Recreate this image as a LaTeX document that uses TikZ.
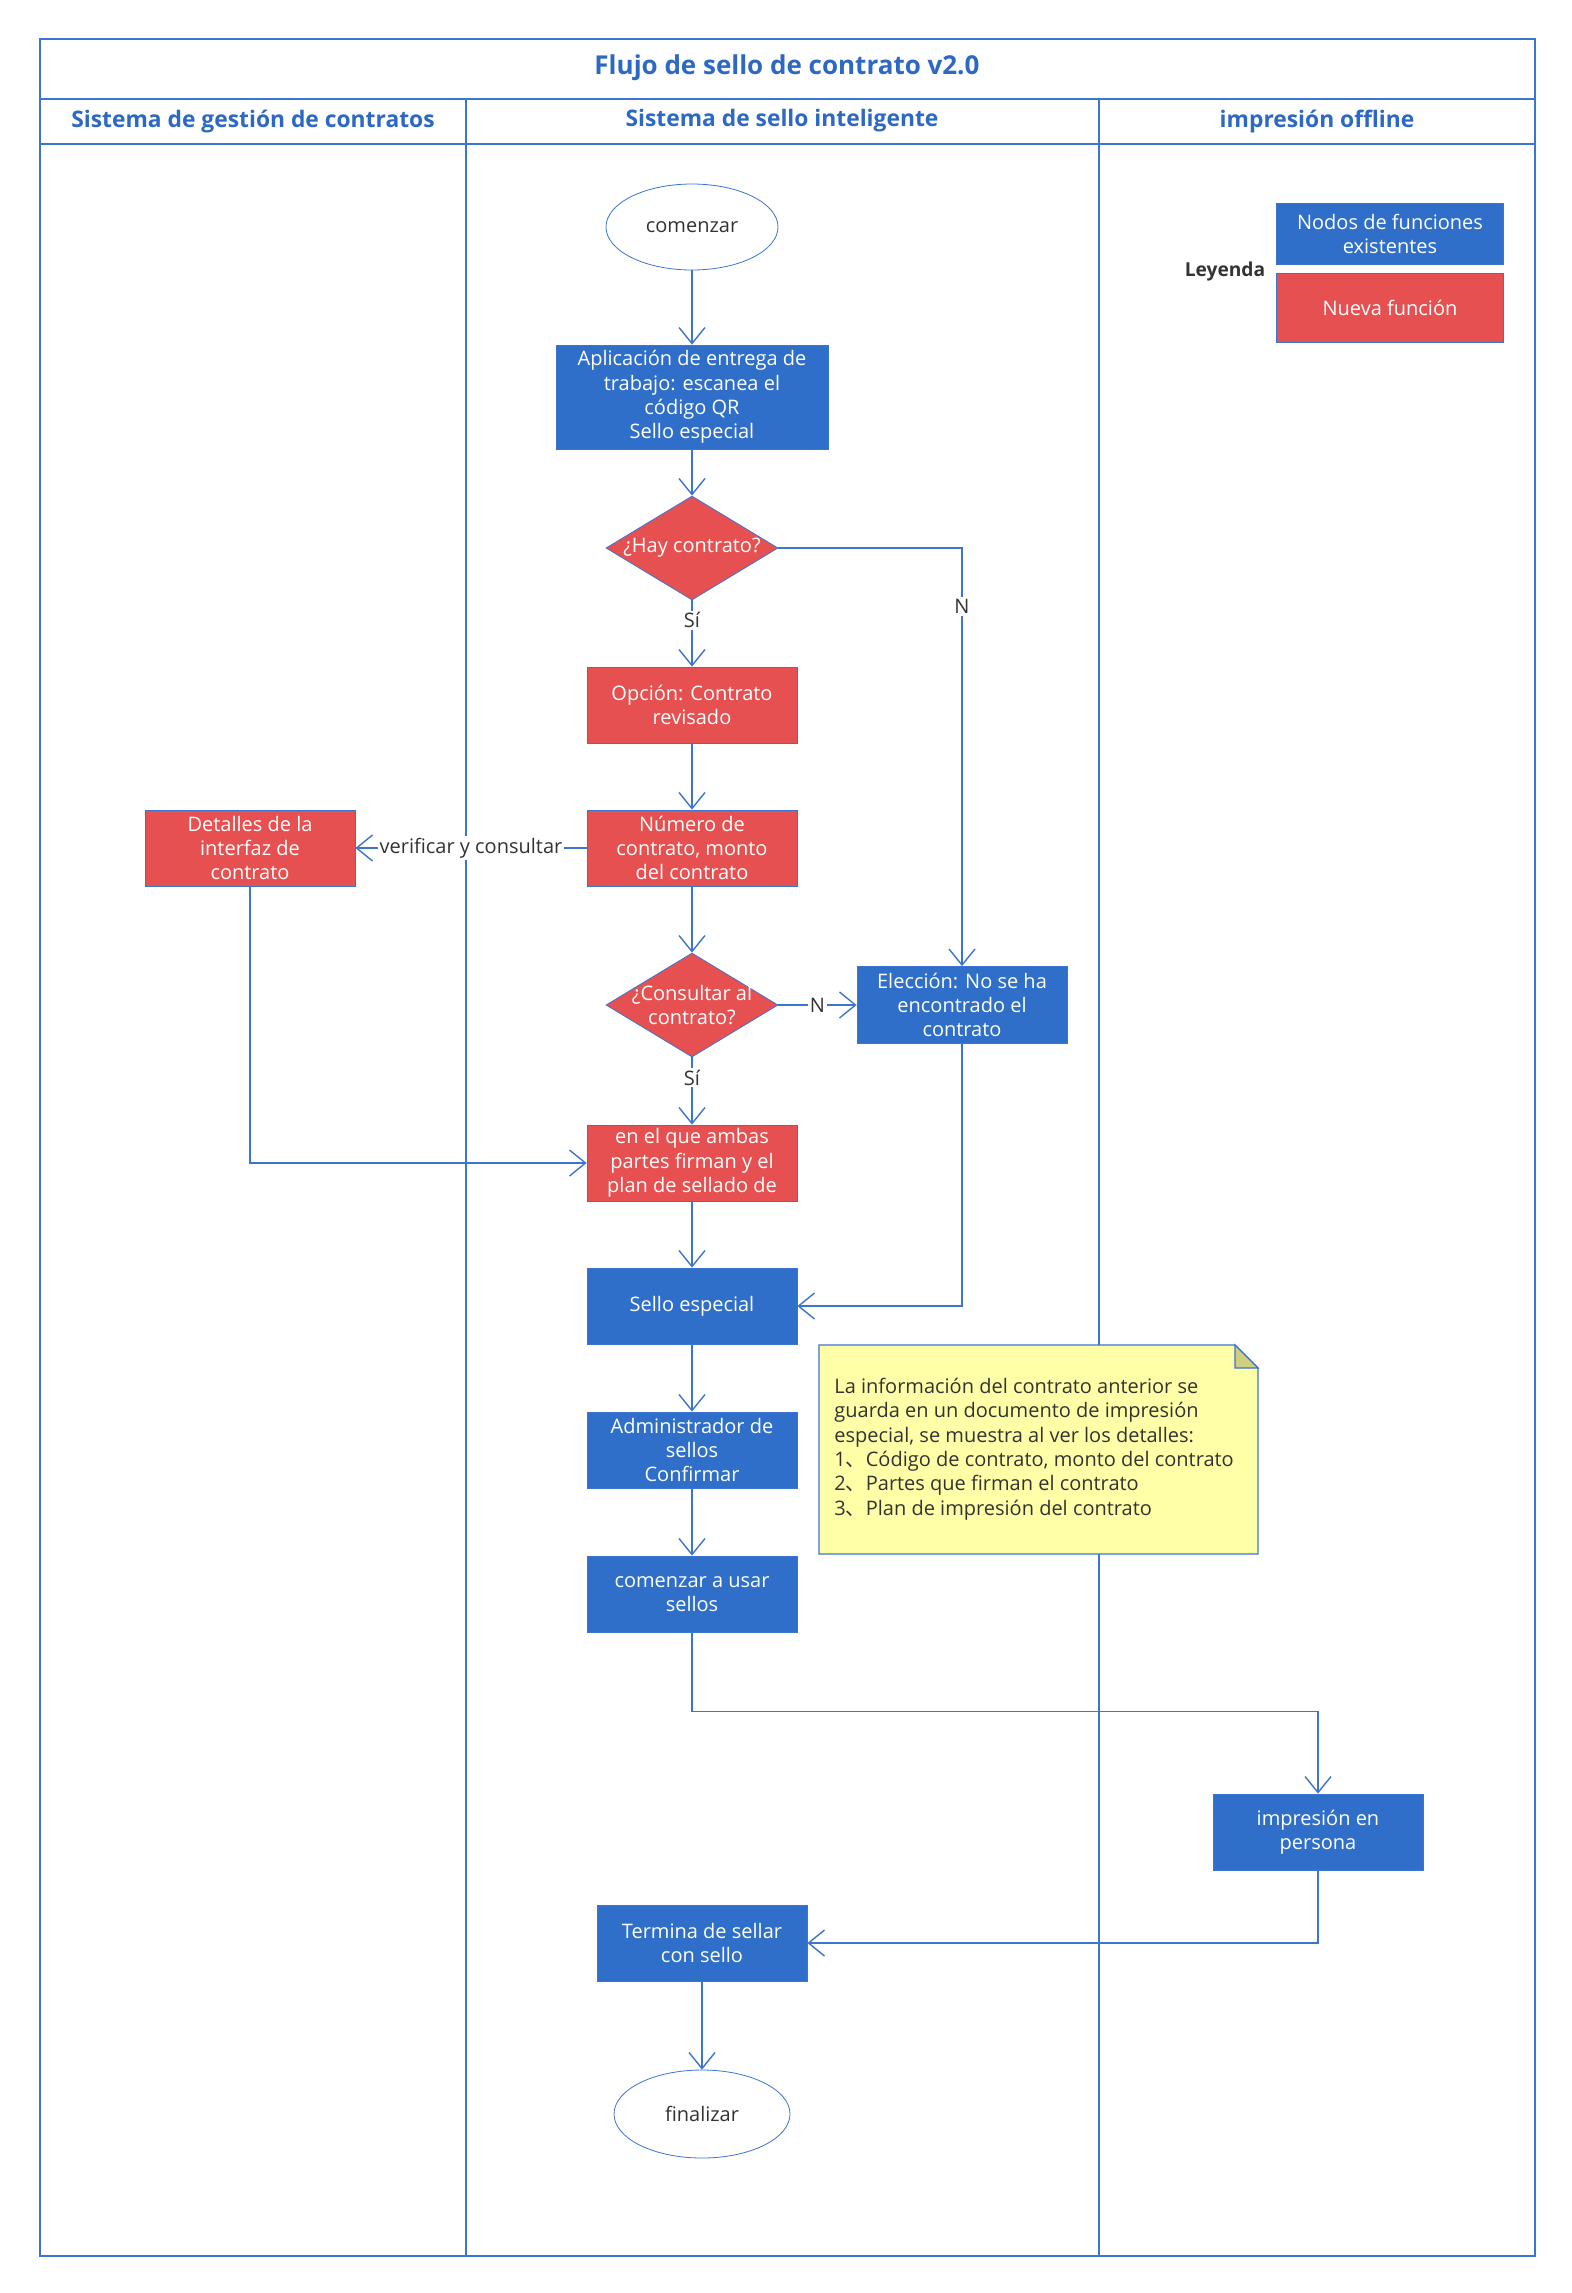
\documentclass[tikz,border=0pt]{standalone}
\usepackage{fontspec}
\setmainfont{Open Sans}
\newfontfamily\cjk{Noto Sans CJK SC}
\usetikzlibrary{shapes.geometric,arrows.meta}
\definecolor{laneblue}{HTML}{3C74D2}
\definecolor{boxblue}{HTML}{2F6FCA}
\definecolor{boxred}{HTML}{E65050}
\definecolor{notefill}{HTML}{FFFFA8}
\definecolor{notefold}{HTML}{CFCF7E}
\definecolor{titleblue}{HTML}{2C68C4}
\definecolor{darktext}{HTML}{333333}
\begin{document}
\begin{tikzpicture}[x=0.5pt, y=-0.5pt,
    every node/.style={font=\fontsize{10}{12.2}\selectfont},
    oldbox/.style={rectangle, draw=laneblue, fill=boxblue, text=white, minimum width=105pt, minimum height=38pt, inner sep=0pt, align=center},
    newbox/.style={oldbox, fill=boxred},
    newdec/.style={diamond, shape aspect=1.66, draw=laneblue, fill=boxred, text=white, minimum width=86pt, minimum height=52pt, inner sep=-3pt, align=center},
    terminal/.style={ellipse, draw=laneblue, fill=white, text=darktext, minimum width=86pt, minimum height=43pt, inner sep=0pt},
    flow/.style={draw=laneblue, line width=0.7pt, -{Straight Barb[length=8pt, width=13pt]}},
    flowlabel/.style={fill=white, text=darktext, inner sep=1pt},
    lanehead/.style={text=titleblue, font=\fontsize{11.4}{13}\selectfont\bfseries}]
    \useasboundingbox (0,0) rectangle (1572,2293);

    % Swimlane frame: title row, header row, three lanes
    \draw[laneblue, line width=0.8pt] (40,39) rectangle (1535,2256);
    \draw[laneblue, line width=0.8pt] (40,99) -- (1535,99);% title row
    \draw[laneblue, line width=0.8pt] (40,144) -- (1535,144);% header row
    \draw[laneblue, line width=0.8pt] (466,99) -- (466,2256);
    \draw[laneblue, line width=0.8pt] (1099,99) -- (1099,2256);
    \node[lanehead, font=\fontsize{13}{15}\selectfont\bfseries] (title) at (787,68) {Flujo de sello de contrato v2.0};
    \node[lanehead] (headA) at (253,121) {Sistema de gestión de contratos};
    \node[lanehead] (headB) at (782,121) {Sistema de sello inteligente};
    \node[lanehead] (headC) at (1317,121) {impresión offline};

    % Legend
    \node[text=darktext, font=\fontsize{9.6}{12}\selectfont\bfseries] (leyenda) at (1225,272) {Leyenda};
    \node[oldbox, minimum width=113.5pt, minimum height=30.5pt] (legold) at (1390,234) {Nodos de funciones\\existentes};
    \node[newbox, minimum width=113.5pt, minimum height=34.4pt] (legnew) at (1390,308) {Nueva función};

    % Main flow
    \node[terminal] (start) at (692,227) {comenzar};
    \node[oldbox, minimum width=136pt, minimum height=52pt] (scan) at (692,397) {Aplicación de entrega de\\trabajo: escanea el\\código QR\\Sello especial};
    \node[newdec] (hay) at (692,548) {¿Hay contrato?};
    \node[newbox] (opcion) at (692,705) {Opción: Contrato\\revisado};
    \node[newbox] (numero) at (692,848) {Número de\\contrato, monto\\del contrato};
    \node[newbox] (detalles) at (250,848) {Detalles de la\\interfaz de\\contrato};
    \node[newdec] (consultar) at (692,1005) {¿Consultar al\\contrato?};
    \node[oldbox, minimum height=38.5pt] (eleccion) at (962,1005) {Elección: No se ha\\encontrado el\\contrato};
    \node[newbox] (ambas) at (692,1163) {en el que ambas\\partes firman y el\\plan de sellado de};
    \node[oldbox] (sello) at (692,1306) {Sello especial};
    \node[oldbox] (admin) at (692,1450) {Administrador de\\sellos\\Confirmar};
    \node[oldbox] (usar) at (692,1594) {comenzar a usar\\sellos};
    \node[oldbox] (persona) at (1318,1832) {impresión en\\persona};
    \node[oldbox] (termina) at (702,1943) {Termina de sellar\\con sello};
    \node[terminal, minimum width=88pt, minimum height=44pt] (fin) at (702,2114) {finalizar};

    % Note with folded corner
    \filldraw[fill=notefill, draw=laneblue, line width=0.7pt] (819,1345) -- (1235,1345) -- (1258,1368) -- (1258,1554) -- (819,1554) -- cycle;
    \filldraw[fill=notefold, draw=laneblue, line width=0.7pt] (1235,1345) -- (1235,1368) -- (1258,1368) -- cycle;
    \node[anchor=west, align=left, text=darktext, inner sep=0pt] (notetext) at (834,1449) {La información del contrato anterior se\\guarda en un documento de impresión\\especial, se muestra al ver los detalles:\\1{\cjk 、}Código de contrato, monto del contrato\\2{\cjk 、}Partes que firman el contrato\\3{\cjk 、}Plan de impresión del contrato};

    % Connectors
    \draw[flow] (start) -- (scan);
    \draw[flow] (scan) -- (hay);
    \draw[flow] (hay) -- node[flowlabel, pos=0.3] {Sí} (opcion);
    \draw[flow] (hay.east) -| node[flowlabel, pos=0.57] {N} (eleccion.north);
    \draw[flow] (opcion) -- (numero);
    \draw[flow] (numero) -- node[flowlabel] {verificar y consultar} (detalles);
    \draw[flow] (numero) -- (consultar);
    \draw[flow] (consultar) -- node[flowlabel] {N} (eleccion);
    \draw[flow] (consultar) -- node[flowlabel, pos=0.3] {Sí} (ambas);
    \draw[flow] (detalles.south) |- (ambas.west);
    \draw[flow] (ambas) -- (sello);
    \draw[flow] (eleccion.south) |- (sello.east);
    \draw[flow] (sello) -- (admin);
    \draw[flow] (admin) -- (usar);
    \draw[flow] (usar.south) -- ++(0,79) -| (persona.north);
    \draw[flow] (persona.south) |- (termina.east);
    \draw[flow] (termina) -- (fin);
\end{tikzpicture}
\end{document}
